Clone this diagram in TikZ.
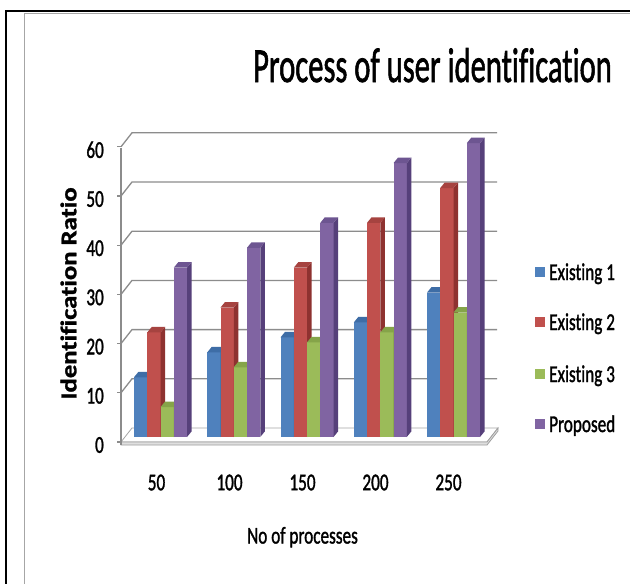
\documentclass[tikz,border=0pt]{standalone}
\usepackage{fontspec}
\setmainfont{Carlito}[Ligatures={NoCommon},RawFeature={embolden=1.6}]
\newfontfamily\ylabfont{Carlito}[Ligatures={NoCommon},RawFeature={embolden=1.2}]
\usepackage{graphicx}
\definecolor{gridgray}{HTML}{8C8C8C}
\definecolor{bF}{HTML}{4F81BD}\definecolor{bS}{HTML}{35608F}\definecolor{bT}{HTML}{3E6DA6}
\definecolor{rF}{HTML}{C0504D}\definecolor{rS}{HTML}{8E3230}\definecolor{rT}{HTML}{A64340}
\definecolor{gF}{HTML}{9BBB59}\definecolor{gS}{HTML}{6F8A3A}\definecolor{gT}{HTML}{85A449}
\definecolor{pF}{HTML}{8064A2}\definecolor{pS}{HTML}{56407A}\definecolor{pT}{HTML}{6D5591}
\newcommand{\vstr}[1]{\scalebox{1}[1.4]{#1}}
\newcommand{\drawbar}[5]{%
  \pgfmathsetmacro{\bxa}{#1}%
  \pgfmathsetmacro{\bxb}{#1+13.25}%
  \pgfmathsetmacro{\bxc}{#1+13.25+4.5}%
  \pgfmathsetmacro{\bxd}{#1+4.5}%
  \pgfmathsetmacro{\bty}{442-4.98*#2}%
  \pgfmathsetmacro{\btz}{442-4.98*#2-5.5}%
  \fill[#3] (\bxa,437) rectangle (\bxb,\bty);
  \fill[#4] (\bxb,437) -- (\bxc,431.5) -- (\bxc,\btz) -- (\bxb,\bty) -- cycle;
  \fill[#5] (\bxa,\bty) -- (\bxb,\bty) -- (\bxc,\btz) -- (\bxd,\btz) -- cycle;
}
\begin{document}
\begin{tikzpicture}[x=1pt,y=-1pt,
  gridln/.style={draw=gridgray,line width=1.3pt},
  lab/.style={inner sep=0pt,font=\fontsize{17.2}{20}\selectfont},
]
\useasboundingbox (0,0) rectangle (630,584);
\fill[white] (0,0) rectangle (630,584);
% frame
\draw[line width=2pt] (6,584) -- (6,10.5) -- (630,10.5);
\draw[gray!70,line width=1pt] (24.5,584) -- (24.5,13.8) -- (630,13.8);
% title
\node[anchor=base,inner sep=0pt,font=\fontsize{30.6}{36}\selectfont] (title) at (432.5,82) {\scalebox{1}[1.6]{Process of user identification}};
% back wall grid
\foreach \v in {10,20,...,60}{
  \draw[gridln] (121,{442-4.92*\v}) -- (132,{428-4.92*\v}) -- (497,{428-4.92*\v});
}
% floor
\fill[white,draw=gray!70,line width=0.8pt] (121,442) -- (132,428) -- (498,428) -- (487,442) -- cycle;
\fill[gray!25,draw=gray!75,line width=0.8pt] (121,442) -- (487,442) -- (498,428) -- (498,431) -- (487,445) -- (121,445) -- cycle;
% axis
\draw[gridln] (121,445) -- (121,147.5);
\foreach \v in {0,10,...,60}{
  \draw[gridln] (117,{442-4.92*\v}) -- (121,{442-4.92*\v});
  \node[lab,anchor=east] (y\v) at (104,{445-4.92*\v}) {\vstr{\v}};
}
% bars
\foreach \c/\a/\b/\g/\p [count=\i from 0] in {50/13/22/7/35,100/18/27/15/39,150/21/35/20/44,200/24/44/22/56,250/30/51/26/60}{
  \pgfmathsetmacro{\xl}{134+73.25*\i}
  \drawbar{\xl}{\a}{bF}{bS}{bT}
  \drawbar{\xl+13.25}{\b}{rF}{rS}{rT}
  \drawbar{\xl+26.5}{\g}{gF}{gS}{gT}
  \drawbar{\xl+39.75}{\p}{pF}{pS}{pT}
  \node[lab] (c\c) at ({156.5+73*\i},482.5) {\vstr{\c}};
}
% axis titles
\node[rotate=90,inner sep=0pt,font=\ylabfont\bfseries\fontsize{22.6}{26}\selectfont] (ylab) at (68.5,293.5) {\scalebox{1.18}[1]{Identification Ratio}};
\node[lab,anchor=base] (xlab) at (302.5,543.5) {\vstr{No of processes}};
% legend
\fill[bF] (535,267) rectangle (545,277);
\node[lab,anchor=base west] (l1) at (549,280) {\vstr{Existing 1}};
\fill[rF] (535,317) rectangle (545,327);
\node[lab,anchor=base west] (l2) at (549,330) {\vstr{Existing 2}};
\fill[gF] (535,369) rectangle (545,379);
\node[lab,anchor=base west] (l3) at (549,382) {\vstr{Existing 3}};
\fill[pF] (535,419) rectangle (545,429);
\node[lab,anchor=base west] (l4) at (549,432) {\vstr{Proposed}};
\end{tikzpicture}
\end{document}
